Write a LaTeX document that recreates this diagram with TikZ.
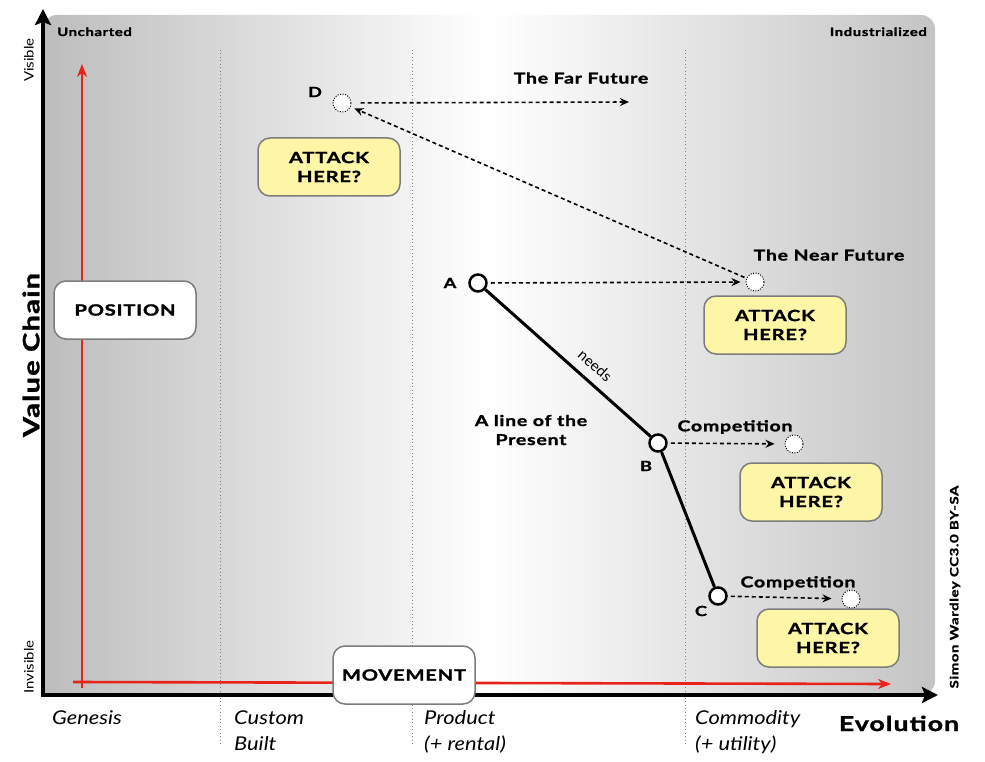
\documentclass[tikz,border=0pt]{standalone}
\usepackage{fontspec}
\setmainfont{Lato}[FakeStretch=1.15, BoldFeatures={FakeStretch=1.3, LetterSpace=5, FakeBold=1.5}]
\newfontfamily\plainlato{Lato}
\usetikzlibrary{arrows.meta}
\definecolor{attackyellow}{HTML}{FDF6A6}
\definecolor{boxborder}{HTML}{7C7C7C}
\definecolor{redline}{HTML}{E8231B}
\definecolor{panelgray}{HTML}{BDBDBD}
\definecolor{panelgrayr}{HTML}{C4C4C4}
\newcommand{\fs}[1]{\fontsize{#1}{#1}\selectfont}
\begin{document}
\begin{tikzpicture}[x=1pt,y=-1pt,
  every node/.style={inner sep=0pt},
  bigbox/.style={draw=boxborder, line width=1.5pt, rounded corners=12pt,
    minimum width=142pt, minimum height=58pt, align=center,
    font=\fontsize{15.5}{19}\selectfont\bfseries},
  attackbox/.style={bigbox, fill=attackyellow},
  whitebox/.style={bigbox, fill=white},
  ptnode/.style={circle, draw=black, line width=2.5pt, fill=white, minimum size=17pt},
  ghost/.style={circle, draw=black, line width=1pt, dash pattern=on 1pt off 1.5pt, fill=white, minimum size=18pt},
  dasharrow/.style={-{Stealth[length=9pt,width=8pt]}, line width=1.6pt, dash pattern=on 4pt off 3pt},
  redarrow/.style={draw=redline, line width=2.6pt, -{Stealth[length=13pt,width=10pt]}},
  axisarrow/.style={draw=black, line width=3.5pt, -{Stealth[length=16pt,width=16pt,inset=3pt]}},
  stageline/.style={draw=gray, line width=0.9pt, dash pattern=on 0.9pt off 2.6pt},
  lbl/.style={font=\fs{15}\bfseries},
  ptlbl/.style={font=\fs{14}\bfseries},
  stagelbl/.style={font=\fs{19}\itshape, anchor=base west}
]
\useasboundingbox (0,0) rectangle (985,762);
% panel
\shade[left color=panelgray, right color=panelgrayr, middle color=white]
  (43,695) [rounded corners=14pt] -- (43,15) -- (935,15) -- (935,695) [sharp corners] -- cycle;
% stage lines
\draw[stageline] (220,50) -- (220,745);
\draw[stageline] (412,50) -- (412,745);
\draw[stageline] (685,50) -- (685,745);
% axes
\coordinate (ytop) at (43,9);
\coordinate (xend) at (938,695);
\draw[axisarrow] (43,697) -- (ytop);
\draw[axisarrow] (41,695) -- (xend);
% red arrows
\coordinate (rvs) at (82,688);
\coordinate (rve) at (82,64);
\coordinate (rhs) at (73,682);
\coordinate (rhe) at (891,684);
\draw[redarrow] (rvs) -- (rve);
\draw[redarrow] (rhs) -- (rhe);
% corner texts
\node[font=\fs{11.5}\bfseries, anchor=base west] (unch) at (57,36) {Uncharted};
\node[font=\fs{11.5}\bfseries, anchor=base east] (indu) at (927,36) {Industrialized};
\node[font=\fs{13}, rotate=90] (vis) at (29,60) {Visible};
\node[font=\fs{13}, rotate=90] (invis) at (29,667) {Invisible};
\node[font=\fs{22.5}\bfseries, rotate=90] (vc) at (31,355) {Value Chain};
\node[font=\fs{20.5}\bfseries, anchor=base] (evo) at (899,731) {Evolution};
\node[font=\fs{11.5}\bfseries, rotate=90] (cc) at (955,587) {Simon Wardley CC3.0 BY-SA};
% stage labels
\node[stagelbl] (gen) at (52,724) {Genesis};
\node[stagelbl] (cus1) at (234,724) {Custom};
\node[stagelbl] (cus2) at (234,750) {Built};
\node[stagelbl] (pro1) at (424,724) {Product};
\node[stagelbl] (pro2) at (424,750) {(+ rental)};
\node[stagelbl] (com1) at (695,724) {Commodity};
\node[stagelbl] (com2) at (695,750) {(+ utility)};
% boxes
\node[whitebox] (position) at (125,310) {POSITION};
\node[whitebox] (movement) at (404,675) {MOVEMENT};
\node[attackbox] (att1) at (329,167) {ATTACK\\HERE?};
\node[attackbox] (att2) at (775,325) {ATTACK\\HERE?};
\node[attackbox] (att3) at (811,492) {ATTACK\\HERE?};
\node[attackbox] (att4) at (828,638) {ATTACK\\HERE?};
% value chain
\node[ptnode] (A) at (478,283) {};
\node[ptnode] (B) at (658,443) {};
\node[ptnode] (C) at (718,596) {};
\draw[line width=3pt] (A) -- node[pos=0.6, sloped, above=9pt, font=\plainlato\fs{15}] (needs) {needs} (B);
\draw[line width=3pt] (B) -- (C);
\node[ptlbl] (Alab) at (450,283) {A};
\node[ptlbl] (Blab) at (646,466) {B};
\node[ptlbl] (Clab) at (701,611) {C};
% future points
\node[ghost] (D) at (342,103) {};
\node[ptlbl] (Dlab) at (315,92) {D};
\node[ghost] (near) at (755,282) {};
\node[ghost] (comp1) at (794,444) {};
\node[ghost] (comp2) at (851,599) {};
\coordinate (far) at (629,102);
\draw[dasharrow, shorten <=9pt] (D) -- (far);
\draw[dasharrow, shorten <=3pt, shorten >=5pt] (A) -- (near);
\draw[dasharrow, shorten <=2pt, shorten >=4pt] (near) -- (D);
\draw[dasharrow, shorten <=3pt, shorten >=10pt] (B) -- (comp1);
\draw[dasharrow, shorten <=3pt, shorten >=10pt] (C) -- (comp2);
% texts
\node[lbl] (farl) at (581,78) {The Far Future};
\node[lbl] (nearl) at (829,255) {The Near Future};
\node[lbl] (compl1) at (735,427) {Competition};
\node[lbl] (compl2) at (798,583) {Competition};
\node[lbl, align=center] (present) at (531,430) {A line of the\\[4pt]Present};
\end{tikzpicture}
\end{document}
